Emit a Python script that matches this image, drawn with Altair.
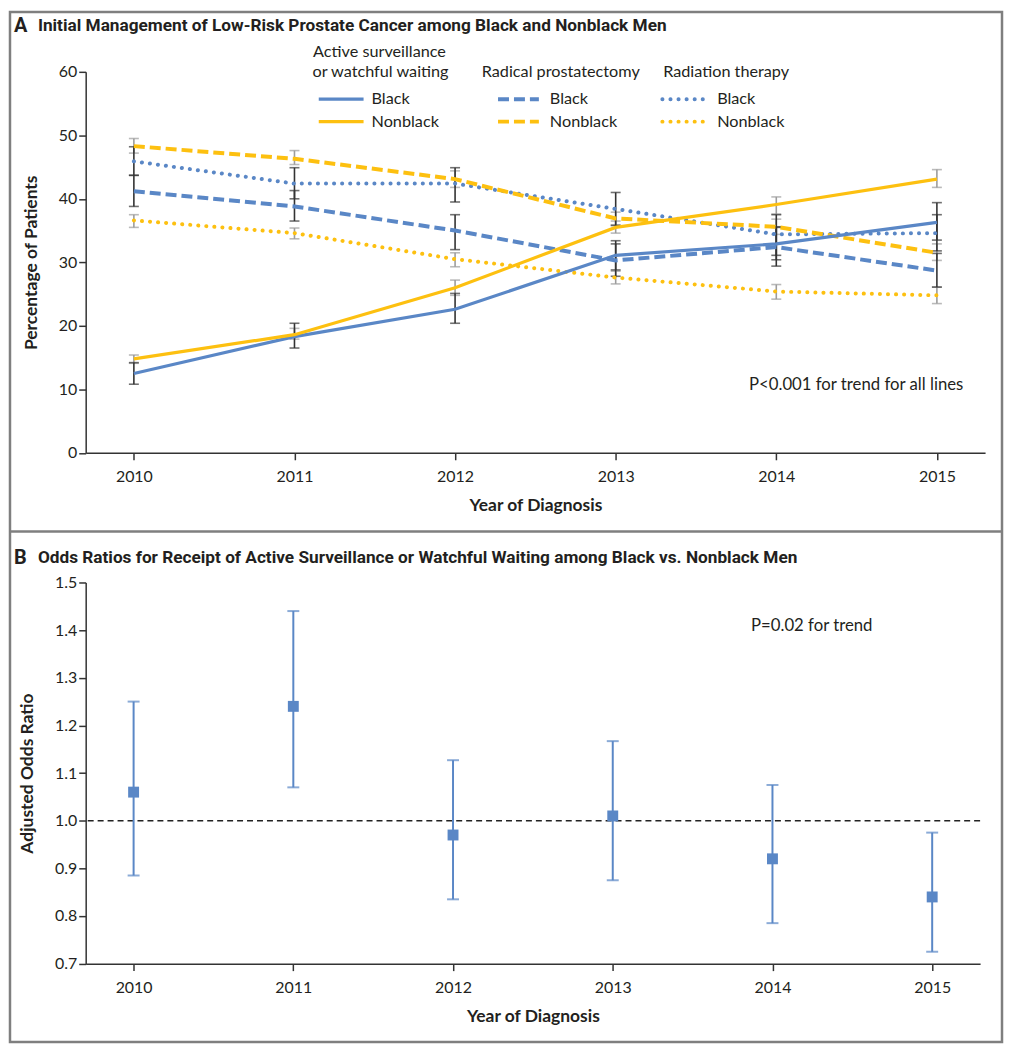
import altair as alt
import pandas as pd

# ---------------- data ----------------
years = [2010, 2011, 2012, 2013, 2014, 2015]

as_black       = [12.5, 18.3, 22.6, 31.1, 32.9, 36.3]
as_black_lo    = [10.8, 16.5, 20.4, 28.8, 30.4, 33.5]
as_black_hi    = [14.2, 20.4, 25.1, 33.4, 35.6, 39.4]
as_nonblack    = [14.8, 18.6, 26.0, 35.5, 39.1, 43.1]
as_nonblack_lo = [14.1, 17.9, 24.8, 34.6, 37.6, 41.8]
as_nonblack_hi = [15.4, 19.6, 27.2, 36.5, 40.3, 44.6]
rp_black       = [41.2, 38.8, 35.0, 30.3, 32.4, 28.7]
rp_black_lo    = [38.8, 36.5, 32.0, 27.8, 29.4, 26.1]
rp_black_hi    = [43.7, 41.3, 37.5, 32.9, 35.5, 31.4]
rp_nonblack    = [48.3, 46.3, 43.1, 36.9, 35.6, 31.5]
rp_nonblack_lo = [47.2, 45.4, 41.8, 35.9, 34.4, 30.3]
rp_nonblack_hi = [49.5, 47.6, 44.4, 37.9, 36.8, 32.9]
rt_black       = [45.9, 42.4, 42.4, 38.4, 34.4, 34.6]
rt_black_lo    = [43.7, 40.0, 39.5, 35.8, 31.1, 31.8]
rt_black_hi    = [48.2, 44.9, 44.9, 41.0, 37.5, 37.5]
rt_nonblack    = [36.6, 34.6, 30.5, 27.6, 25.4, 24.8]
rt_nonblack_lo = [35.5, 33.7, 29.3, 26.6, 24.2, 23.5]
rt_nonblack_hi = [37.5, 35.4, 31.5, 28.6, 26.5, 26.1]

odds_ratio = [1.06, 1.24, 0.97, 1.01, 0.92, 0.84]
odds_lo    = [0.885, 1.07, 0.835, 0.875, 0.785, 0.725]
odds_hi    = [1.25, 1.44, 1.127, 1.167, 1.075, 0.975]

AS, RP, RT = "Active surveillance", "Radical prostatectomy", "Radiation therapy"
series = [
    (AS, "Black", as_black, as_black_lo, as_black_hi),
    (AS, "Nonblack", as_nonblack, as_nonblack_lo, as_nonblack_hi),
    (RP, "Black", rp_black, rp_black_lo, rp_black_hi),
    (RP, "Nonblack", rp_nonblack, rp_nonblack_lo, rp_nonblack_hi),
    (RT, "Black", rt_black, rt_black_lo, rt_black_hi),
    (RT, "Nonblack", rt_nonblack, rt_nonblack_lo, rt_nonblack_hi),
]
rows = []
for m, r, v, lo, hi in series:
    for i, yr in enumerate(years):
        rows.append(dict(method=m, race=r, year=yr, value=v[i], lo=lo[i], hi=hi[i]))
dfA = pd.DataFrame(rows)
dfB = pd.DataFrame(dict(year=years, value=odds_ratio, lo=odds_lo, hi=odds_hi))
one = pd.DataFrame({"k": [0]})

# ---------------- style ----------------
FONT = "Lato"
TFONT = "Roboto"
TXT = "#231f20"
BLUE = "#5a87c6"
YELLOW = "#fdc010"
DARK = "#333333"
GREY = "#9c9c9c"
FRAME = "#7f7f7f"

color_scale = alt.Scale(domain=["Black", "Nonblack"], range=[BLUE, YELLOW])
x_scale = alt.Scale(domain=[2009.7, 2015.3], nice=False, zero=False)

def xenc():
    return alt.X("year:Q", scale=x_scale,
                 axis=alt.Axis(values=years, format="d", title="Year of Diagnosis",
                               labelPadding=9, titlePadding=12))

def text(t, x, y, size=16.3, bold=False, font=FONT, align="left"):
    return alt.Chart(one).mark_text(
        text=t, font=font, fontSize=size, fontWeight="bold" if bold else "normal",
        color=TXT, align=align, baseline="middle"
    ).encode(x=alt.value(x), y=alt.value(y))

def hrule(x0, x1, y, color, width=2, dash=None, cap="butt"):
    kw = dict(color=color, strokeWidth=width, strokeCap=cap)
    if dash:
        kw["strokeDash"] = dash
    return alt.Chart(one).mark_rule(**kw).encode(
        x=alt.value(x0), x2=alt.value(x1), y=alt.value(y))

# ---------------- panel A ----------------
yvalsA = [0, 10, 20, 30, 40, 50, 60]
def yA(field):
    return alt.Y(field, scale=alt.Scale(domain=[0, 60], nice=False),
                 axis=alt.Axis(values=yvalsA, title="Percentage of Patients", titlePadding=18))

base = alt.Chart(dfA)
styles = {
    AS: dict(strokeWidth=3.2),
    RP: dict(strokeWidth=4, strokeDash=[11, 5]),
    RT: dict(strokeWidth=4, strokeDash=[0.1, 8], strokeCap="round"),
}
line_layers = []
for m in [RT, RP, AS]:
    line_layers.append(
        base.transform_filter(alt.datum.method == m).mark_line(**styles[m]).encode(
            x=xenc(), y=yA("value:Q"),
            color=alt.Color("race:N", scale=color_scale, legend=None),
            detail="race:N",
        )
    )
err_layers = []
for r, c in [("Nonblack", GREY), ("Black", DARK)]:
    err_layers.append(
        base.transform_filter(alt.datum.race == r).mark_errorbar(
            color=c, thickness=1.6, ticks={"size": 10, "color": c}
        ).encode(x=xenc(), y=yA("lo:Q"), y2="hi:Q", detail="method:N")
    )

frame = alt.Chart(one).mark_rect(fillOpacity=0, stroke=FRAME, strokeWidth=2.5).encode(
    x=alt.value(-76), x2=alt.value(920), y=alt.value(-60), y2=alt.value(974))
divider = hrule(-76, 920, 461.5, FRAME, width=2.5)

legend_layers = [
    text("Active surveillance", 295, -19.5, align="center"),
    text("or watchful waiting", 296, 0.2, align="center"),
    text("Radical prostatectomy", 477, 0.2, align="center"),
    text("Radiation therapy", 643, 0.2, align="center"),
]
cols = [(AS, 234, 279, 287), (RP, 414, 455, 466), (RT, 579, 625, 634)]
for m, x0, x1, tx in cols:
    for r, yy, c in [("Black", 27.5, BLUE), ("Nonblack", 50.0, YELLOW)]:
        st = styles[m]
        legend_layers.append(hrule(x0, x1, yy, c, width=st["strokeWidth"],
                                   dash=st.get("strokeDash"), cap=st.get("strokeCap", "butt")))
        legend_layers.append(text(r, tx, yy))

titleA = [
    text("A", -72, -45.5, size=20, bold=True, font=TFONT),
    text("Initial Management of Low-Risk Prostate Cancer among Black and Nonblack Men",
         -48, -45.5, size=17.3, bold=True, font=TFONT),
]
annA = text("P<0.001 for trend for all lines", 666, 314, size=16.8)

panelA = alt.layer(
    frame, divider, *err_layers, *line_layers, *legend_layers, *titleA, annA
).properties(width=903, height=382.5)

# ---------------- panel B ----------------
yvalsB = [0.7, 0.8, 0.9, 1.0, 1.1, 1.2, 1.3, 1.4, 1.5]
def yB(field):
    return alt.Y(field, scale=alt.Scale(domain=[0.7, 1.5], nice=False, zero=False),
                 axis=alt.Axis(values=yvalsB, format=".1f",
                               title="Adjusted Odds Ratio", titlePadding=18))
baseB = alt.Chart(dfB)
ref_line = alt.Chart(pd.DataFrame({"ref": [1.0]})).mark_rule(
    color="#222222", strokeWidth=1.5, strokeDash=[6, 4]).encode(y=yB("ref:Q"))
errB = baseB.mark_errorbar(color=BLUE, thickness=2, ticks={"size": 12, "color": BLUE}).encode(
    x=xenc(), y=yB("lo:Q"), y2="hi:Q")
ptsB = baseB.mark_square(color=BLUE, size=120, opacity=1).encode(x=xenc(), y=yB("value:Q"))
titleB = [
    text("B", -72, -25, size=20, bold=True, font=TFONT),
    text("Odds Ratios for Receipt of Active Surveillance or Watchful Waiting among Black vs. Nonblack Men",
         -48, -25, size=17.3, bold=True, font=TFONT),
]
annB = text("P=0.02 for trend", 668, 44, size=16.8)

panelB = alt.layer(ref_line, errB, ptsB, *titleB, annB).properties(width=898, height=382.7)

chart = alt.vconcat(panelA, panelB, spacing=129.7, bounds="flush").properties(
    padding=0, background="white"
).configure_view(stroke=None).configure_axis(
    grid=False, domainColor=DARK, domainWidth=1.5, tickColor=DARK, tickWidth=1.5,
    tickSize=7, labelFont=FONT, labelFontSize=16, labelColor=TXT,
    titleFont=FONT, titleFontSize=17.5, titleFontWeight="bold", titleColor=TXT,
)

chart.save("out.html", embed_options={"renderer": "svg", "actions": False})
